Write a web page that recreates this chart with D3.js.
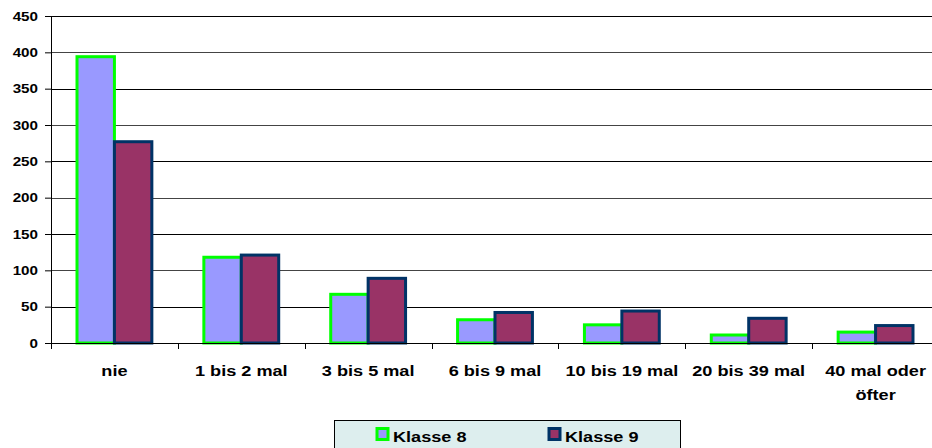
<!DOCTYPE html>
<html>
<head>
<meta charset="utf-8">
<script src="https://cdn.jsdelivr.net/npm/d3@7"></script>
<style>
  body { margin: 0; background: #fff; }
  text { font-family: "Liberation Sans", Arial, sans-serif; font-weight: bold; }
</style>
</head>
<body>
<div id="chartContainer"></div>
<script>
const categories = ['nie', '1 bis 2 mal', '3 bis 5 mal', '6 bis 9 mal', '10 bis 19 mal', '20 bis 39 mal', '40 mal oder öfter'];
const klasse8 = [394, 118, 67, 32, 25, 11, 15];
const klasse9 = [277, 121, 89, 42, 44, 34, 24];
const seriesNames = ['Klasse 8', 'Klasse 9'];
const yTicks = [0, 50, 100, 150, 200, 250, 300, 350, 400, 450];

const width = 932, height = 448;
const margin = { top: 16, right: -7, bottom: 105, left: 51 };
const innerW = width - margin.left - margin.right;
const innerH = height - margin.top - margin.bottom;

const fills = ['#9999ff', '#993366'];
const strokes = ['#00ff00', '#003366'];
const stretch = 1.17; // text in the original is drawn a bit wide

const svg = d3.select('#chartContainer')
    .append('svg')
    .attr('width', width)
    .attr('height', height);

const g = svg.append('g')
    .attr('transform', `translate(${margin.left},${margin.top})`);

const x = d3.scaleBand()
    .domain(categories)
    .range([0, innerW])
    .paddingInner(0.41)
    .paddingOuter(0.205);

const x1 = d3.scaleBand()
    .domain(seriesNames)
    .range([0, x.bandwidth()]);

const y = d3.scaleLinear()
    .domain([0, 450])
    .range([innerH, 0]);

// gridlines
g.selectAll('.grid')
    .data(yTicks.filter(d => d > 0))
    .enter()
    .append('line')
    .attr('x1', 0)
    .attr('x2', innerW)
    .attr('y1', d => Math.round(y(d)) + 0.5)
    .attr('y2', d => Math.round(y(d)) + 0.5)
    .attr('stroke', (d, i) => i % 2 === 0 ? '#000' : '#444')
    .attr('stroke-width', 1);

// bars
const rows = categories.map((c, i) => ({ cat: c, vals: [klasse8[i], klasse9[i]] }));
const groups = g.selectAll('.grp')
    .data(rows)
    .enter()
    .append('g')
    .attr('transform', d => `translate(${x(d.cat)},0)`);

groups.selectAll('rect')
    .data(d => d.vals.map((v, k) => ({ name: seriesNames[k], v: v, k: k })))
    .enter()
    .append('rect')
    .attr('x', d => x1(d.name))
    .attr('y', d => y(d.v))
    .attr('width', x1.bandwidth())
    .attr('height', d => innerH - y(d.v))
    .attr('fill', d => fills[d.k])
    .attr('stroke', d => strokes[d.k])
    .attr('stroke-width', 3);

// y axis
const yAxis = g.append('g')
    .call(d3.axisLeft(y).tickValues(yTicks).tickSize(6).tickPadding(7));
yAxis.select('.domain').attr('stroke', '#000');
yAxis.selectAll('text')
    .attr('font-size', 13)
    .attr('fill', '#000')
    .attr('x', 0)
    .attr('transform', `translate(-13,0) scale(${stretch},1)`)
    .style('font-family', '"Liberation Sans", Arial, sans-serif')
    .style('font-weight', 'bold');

// x axis
const xAxis = g.append('g')
    .attr('transform', `translate(0,${innerH})`)
    .call(d3.axisBottom(x).tickSize(0).tickFormat(''));
xAxis.select('.domain').attr('stroke', '#000');
xAxis.selectAll('.sep')
    .data(d3.range(categories.length + 1))
    .enter()
    .append('line')
    .attr('x1', i => Math.round(i * x.step()) + 0.5)
    .attr('x2', i => Math.round(i * x.step()) + 0.5)
    .attr('y1', 0)
    .attr('y2', 6)
    .attr('stroke', '#000');

// category labels with wrapping
const labelLines = { '40 mal oder öfter': ['40 mal oder', 'öfter'] };
categories.forEach(c => {
    const lines = labelLines[c] || [c];
    const t = g.append('text')
        .attr('transform', `translate(${x(c) + x.bandwidth() / 2},${innerH + 33}) scale(${stretch},1)`)
        .attr('text-anchor', 'middle')
        .attr('font-size', 15.5)
        .attr('fill', '#000');
    lines.forEach((l, i) => {
        t.append('tspan')
            .attr('x', 0)
            .attr('dy', i === 0 ? 0 : 24)
            .text(l);
    });
});

// legend
const legend = svg.append('g').attr('transform', 'translate(334,420)');
legend.append('rect')
    .attr('x', 0.5).attr('y', 0.5)
    .attr('width', 346).attr('height', 30)
    .attr('fill', '#ddeeee')
    .attr('stroke', '#000');
const legX = [43, 215];
seriesNames.forEach((s, k) => {
    legend.append('rect')
        .attr('x', legX[k]).attr('y', 8.5)
        .attr('width', 11).attr('height', 11)
        .attr('fill', fills[k])
        .attr('stroke', strokes[k])
        .attr('stroke-width', 3);
    legend.append('text')
        .attr('transform', `translate(${legX[k] + 16},21.5) scale(${stretch},1)`)
        .attr('font-size', 15.5)
        .attr('fill', '#000')
        .text(s);
});
</script>
</body>
</html>
